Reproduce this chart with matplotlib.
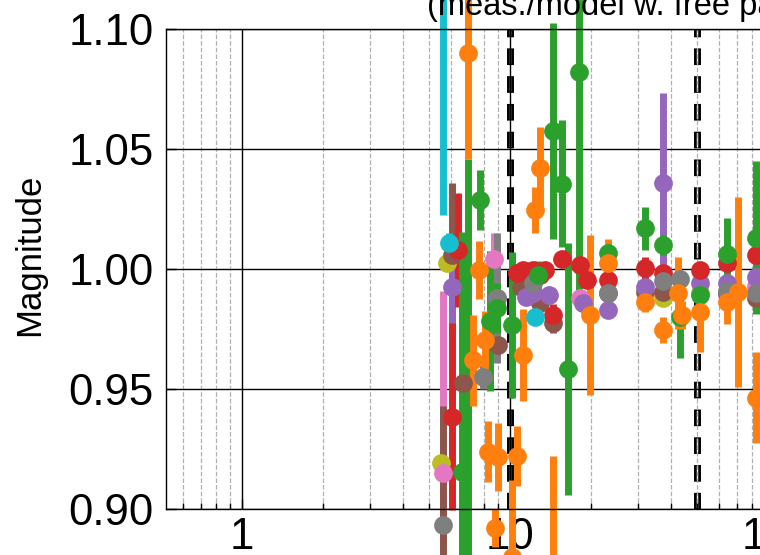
import matplotlib
matplotlib.use("Agg")
import matplotlib.pyplot as plt
from matplotlib.ticker import FixedLocator, FixedFormatter, LogLocator, NullFormatter

plt.rcParams["font.family"] = ["Liberation Sans", "DejaVu Sans"]

# ---- measured / model ratios (frequency in Hz, ratio, 1-sigma error) ----
olive_f = [5.82, 5.5, 18.7, 37.2, 51.2, 82.8]
olive_v = [1.0025, 0.919, 0.986, 0.988, 0.990, 0.991]
olive_e = [0.003, 0.003, 0.003, 0.003, 0.003, 0.003]

pink_f = [5.62, 8.71, 12.0, 18.2, 64.5, 82.8]
pink_v = [0.915, 1.0042, 0.992, 0.988, 0.989, 0.993]
pink_e = [0.076, 0.0106, 0.003, 0.003, 0.003, 0.003]

brown_f = [6.05, 5.62, 6.7, 9.02, 11.0, 12.2, 12.9, 14.5, 23.2, 31.9, 37.2, 64.5, 82.8]
brown_v = [1.0058, 0.86, 0.9525, 0.9683, 0.9925, 0.990, 0.9858, 0.9775, 0.990, 0.9904,
           0.9904, 0.990, 0.988]
brown_e = [0.030, 0.083, 0.004, 0.0033, 0.003, 0.003, 0.003, 0.004, 0.003, 0.003,
           0.003, 0.003, 0.003]

purple_f = [6.05, 8.9, 11.5, 12.2, 14.0, 18.7, 23.2, 31.9, 37.2, 51.2, 64.5, 82.8]
purple_v = [0.9925, 0.988, 0.9883, 0.990, 0.989, 0.9858, 0.9829, 0.9925, 1.036, 0.9942,
            0.9942, 0.9967]
purple_e = [0.0204, 0.004, 0.003, 0.003, 0.003, 0.003, 0.003, 0.003, 0.0373, 0.003,
            0.003, 0.003]

red_f = [6.08, 6.4, 10.6, 11.2, 12.2, 12.9, 13.5, 14.5, 15.6, 18.2, 19.4, 23.2, 31.9,
         37.2, 51.2, 64.5, 82.8]
red_v = [0.9385, 1.008, 0.9983, 0.9996, 0.9996, 0.9975, 0.9996, 0.9808, 1.004, 1.0017,
         0.9954, 0.9954, 1.0004, 0.9983, 0.9996, 1.0025, 1.0060]
red_e = [0.039, 0.0238, 0.003, 0.003, 0.003, 0.003, 0.003, 0.0045, 0.003, 0.003,
         0.003, 0.003, 0.0045, 0.003, 0.003, 0.003, 0.003]

gray_f = [5.62, 7.93, 8.94, 12.2, 23.2, 37.2, 43.1, 64.5, 82.8]
gray_v = [0.8933, 0.955, 0.988, 0.994, 0.990, 0.995, 0.996, 0.991, 0.990]
gray_e = [0.003, 0.005, 0.027, 0.003, 0.003, 0.003, 0.003, 0.003, 0.003]

cyan_f = [5.62, 5.92, 12.4]
cyan_v = [1.16, 1.011, 0.980]
cyan_e = [0.1375, 0.004, 0.003]

green_f = [6.6, 6.97, 7.73, 8.42, 8.94, 10.2, 12.7, 14.5, 15.6, 16.5, 18.1, 23.2,
           31.9, 37.2, 43.1, 51.2, 64.5, 82.8]
green_v = [0.9154, 0.87, 1.0288, 0.9783, 0.9838, 0.9767, 0.9975, 1.0573, 1.0356, 0.9583,
           1.082, 1.0067, 1.017, 1.010, 0.980, 0.9892, 1.0063, 1.0131]
green_e = [0.100, 0.176, 0.0125, 0.029, 0.0104, 0.0304, 0.006, 0.045, 0.0265, 0.0525,
           0.094, 0.004, 0.009, 0.004, 0.017, 0.004, 0.015, 0.032]

orange_f = [6.97, 7.66, 7.27, 8.07, 8.28, 9.02, 10.6, 8.8, 10.2, 14.5, 11.2, 12.9,
            12.4, 19.9, 23.2, 31.9, 37.2, 42.4, 43.8, 51.2, 64.5, 70.9, 82.8]
orange_v = [1.090, 0.9996, 0.962, 0.9704, 0.9238, 0.9217, 0.9221, 0.8921, 0.880, 0.870,
            0.9642, 1.042, 1.0246, 0.9808, 1.0025, 0.9862, 0.9746, 0.9898, 0.9808, 0.982,
            0.9862, 0.9904, 0.9463]
orange_e = [0.044, 0.012, 0.019, 0.012, 0.0127, 0.014, 0.0125, 0.008, 0.032, 0.052,
            0.019, 0.017, 0.0095, 0.0335, 0.0098, 0.004, 0.0055, 0.015, 0.006, 0.0165,
            0.009, 0.0396, 0.019]

# band edges marked with vertical dashed lines
band_edges = [10, 50]

xticks = [1, 10, 100, 1000]
xtick_labels = ["1", "10", "100", "1000"]
yticks = [0.90, 0.95, 1.00, 1.05, 1.10]
ytick_labels = ["0.90", "0.95", "1.00", "1.05", "1.10"]

series = [
    (olive_f, olive_v, olive_e, "tab:olive"),
    (pink_f, pink_v, pink_e, "tab:pink"),
    (brown_f, brown_v, brown_e, "tab:brown"),
    (purple_f, purple_v, purple_e, "tab:purple"),
    (red_f, red_v, red_e, "tab:red"),
    (gray_f, gray_v, gray_e, "tab:gray"),
    (cyan_f, cyan_v, cyan_e, "tab:cyan"),
    (green_f, green_v, green_e, "tab:green"),
    (orange_f, orange_v, orange_e, "tab:orange"),
]

fig = plt.figure(figsize=(7.6, 5.55), dpi=100)
ax = fig.add_axes([166 / 760, 46 / 555, 986.7 / 760, 480 / 555])
ax.set_xscale("log")
ax.set_xlim(0.52, 2500)
ax.set_ylim(0.90, 1.10)

for edge in band_edges:
    ax.axvline(edge, color="black", lw=5, linestyle=(0, (2.4, 1.6)), zorder=1.1)
    ax.axvline(edge, color="white", lw=1, linestyle=(19, (10, 10)), zorder=1.2)

for i, (f, v, e, c) in enumerate(series):
    cont = ax.errorbar(f, v, yerr=e, fmt="o", color=c, ms=13.5, mew=0,
                       elinewidth=5, capsize=0, zorder=2 + 0.01 * i)
    cont.lines[0].set_clip_on(False)
    for lc in cont.lines[2]:
        lc.set_clip_on(False)

ax.xaxis.set_major_locator(FixedLocator(xticks))
ax.xaxis.set_major_formatter(FixedFormatter(xtick_labels))
ax.xaxis.set_minor_locator(LogLocator(base=10, subs=range(2, 10), numticks=20))
ax.xaxis.set_minor_formatter(NullFormatter())
ax.yaxis.set_major_locator(FixedLocator(yticks))
ax.yaxis.set_major_formatter(FixedFormatter(ytick_labels))

ax.grid(which="major", color="black", lw=1, ls="-")
ax.grid(which="minor", axis="x", color="#b0b0b0", lw=0.9, ls="--")

ax.tick_params(which="both", direction="in", width=1, labelsize=31.5)
ax.tick_params(which="major", length=7)
ax.tick_params(which="minor", length=4)
ax.tick_params(axis="x", pad=5.5)
ax.tick_params(axis="y", pad=9)
for s in ax.spines.values():
    s.set_color("black")
    s.set_linewidth(1)

fig.text(30 / 760, 1 - 255 / 555, "Magnitude", rotation=90, fontsize=25,
         ha="center", va="center")
fig.text(427 / 760, 1 - 15 / 555, "(meas./model w. free parameters)", fontsize=23.5,
         ha="left", va="baseline")

fig.savefig("out.png", dpi=100)
